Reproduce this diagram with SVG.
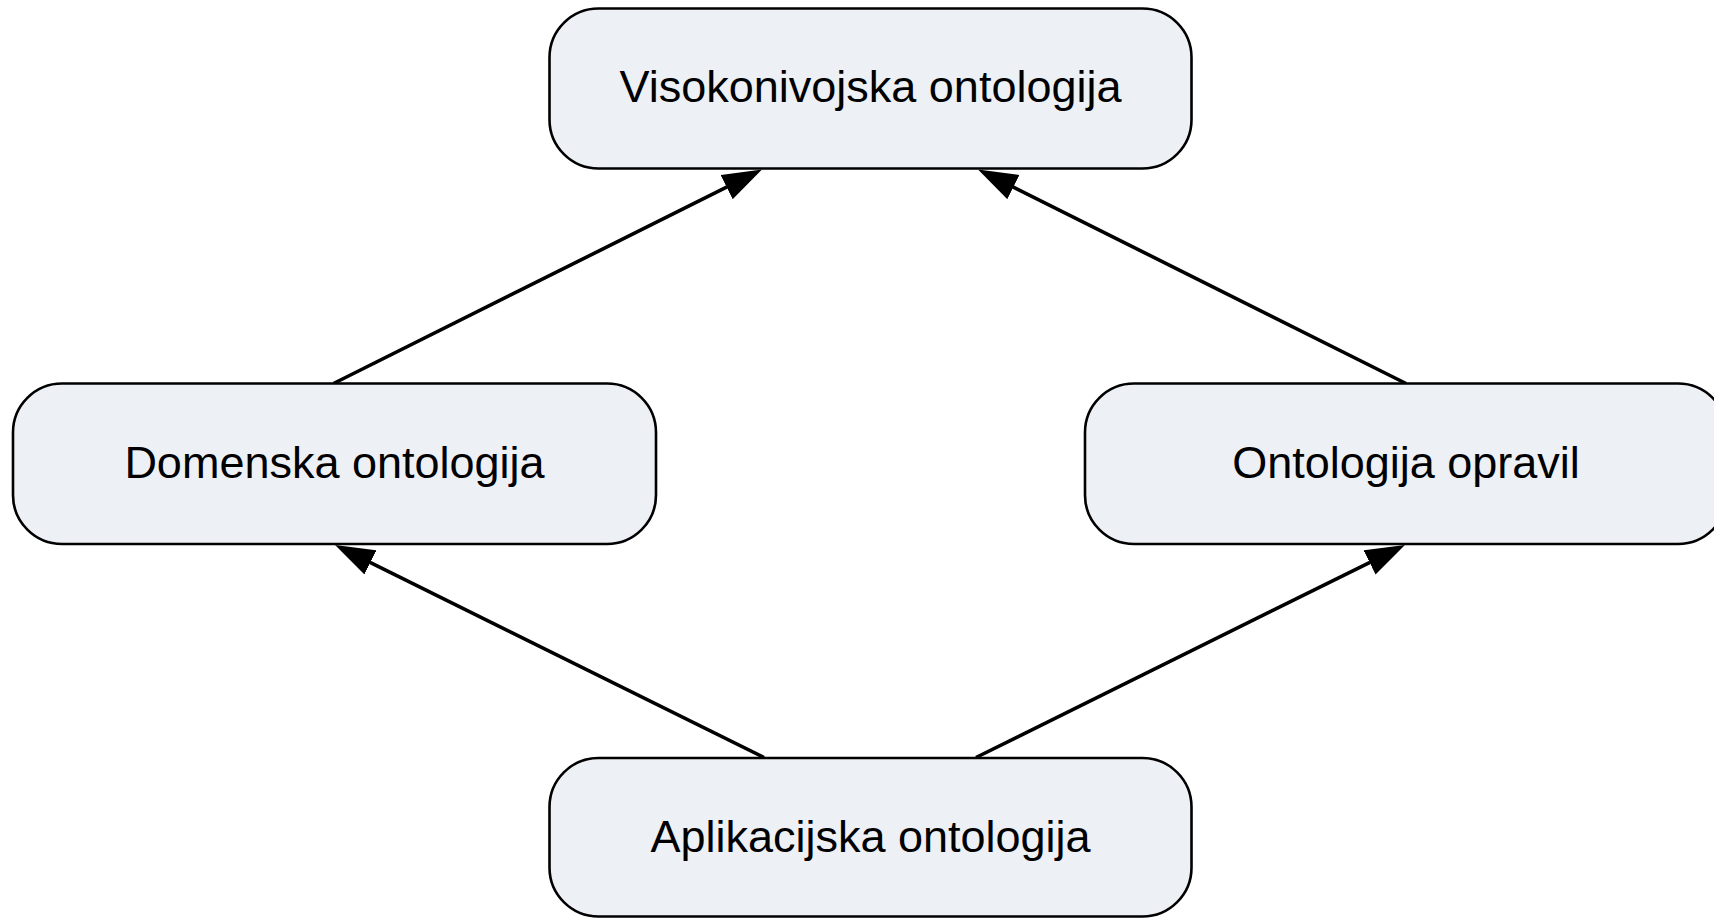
<svg xmlns="http://www.w3.org/2000/svg" width="1714" height="918" viewBox="0 0 1714 918">
<style>
.node rect{fill:#edf0f5;stroke:#000;stroke-width:2.6}
.node text{font-family:"Liberation Sans",Arial,sans-serif;font-size:45px;fill:#000;text-anchor:middle}
.conn line{stroke:#000;stroke-width:3.6;fill:none}
</style>
<defs>
<marker id="ah" markerUnits="userSpaceOnUse" markerWidth="40" markerHeight="28" viewBox="0 0 40 28" refX="0.5" refY="14" orient="auto">
<path d="M0,0.5 L39.5,14 L0,27.5 Z" fill="#000"/>
</marker>
</defs>
<rect width="1714" height="918" fill="#fff"/>
<g class="conn" id="connectors">
<line x1="333.5" y1="383.5" x2="727.1" y2="186.9" marker-end="url(#ah)"/>
<line x1="1406" y1="383.5" x2="1012.9" y2="186.9" marker-end="url(#ah)"/>
<line x1="764" y1="757.5" x2="370" y2="562.3" marker-end="url(#ah)"/>
<line x1="976" y1="757.5" x2="1370" y2="562.3" marker-end="url(#ah)"/>
</g>
<g class="node" id="visokonivojska">
<rect x="549.5" y="8.5" width="642" height="160" rx="49" ry="49"/>
<text x="870.5" y="102">Visokonivojska ontologija</text>
</g>
<g class="node" id="domenska">
<rect x="13" y="383.5" width="643" height="160.5" rx="49" ry="49"/>
<text x="334.5" y="477.5">Domenska ontologija</text>
</g>
<g class="node" id="opravil">
<rect x="1085" y="383.5" width="642" height="160.5" rx="49" ry="49"/>
<text x="1406" y="477.5">Ontologija opravil</text>
</g>
<g class="node" id="aplikacijska">
<rect x="549.5" y="758" width="642" height="158.5" rx="49" ry="49"/>
<text x="870.5" y="852">Aplikacijska ontologija</text>
</g>
</svg>
